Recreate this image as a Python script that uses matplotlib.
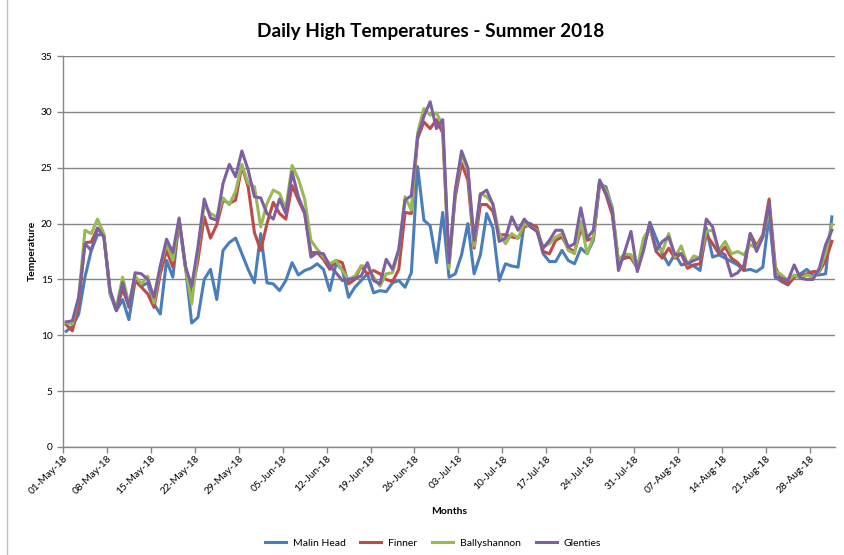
import matplotlib
matplotlib.use("Agg")
import matplotlib.pyplot as plt
import matplotlib.dates as mdates
import pandas as pd
from matplotlib.lines import Line2D

plt.rcParams['font.family'] = ['Lato', 'DejaVu Sans']

start_date = "2018-05-01"
n_days = 123

malin_head = [10.35,10.8,11.9,15.2,17.6,19.0,19.0,13.7,12.2,13.2, 11.4,14.9,14.4,14.7,12.8,11.9,16.7,15.2,20.3,16.2,
              11.1,11.6,15.0,15.9,13.2,17.6,18.3,18.7,17.3,15.9, 14.7,
              19.1,14.7,14.6,14.0,14.9,16.5,15.4,15.8,16.0,16.4, 15.9,14.0,16.4,15.9,13.4,14.3,14.9,15.5,13.8,14.0,
              13.9,14.7,14.9,14.3,15.6,25.1,20.3,19.8,16.5,21.0, 15.2,
              15.5,17.2,20.0,15.5,17.2,20.9,19.6,14.9,16.4,16.2, 16.1,20.1,20.0,19.4,17.3,16.6,16.6,17.6,16.7,16.4,
              17.8,17.3,18.5,23.5,23.3,21.4,16.3,17.2,16.9,16.1,
              17.9,20.1,18.7,17.3,16.3,17.3,16.3,16.4,16.2,15.8, 19.6,17.0,17.2,16.9,16.6,16.3,15.8,15.9,15.7,16.1,
              20.7,15.2,14.8,14.5,15.2,15.5,15.9,15.4,15.4,15.5, 20.6]

finner = [10.95,10.4,12.8,18.3,18.35,19.6,19.0,14.0,12.3,14.1, 12.6,14.9,14.3,13.7,12.5,15.5,17.6,16.1,20.2,16.1,
          13.7,16.7,20.6,18.7,19.9,22.1,21.8,22.1,25.15,23.3, 19.2,
          17.6,20.0,21.9,20.9,20.4,23.4,22.1,20.9,17.4,17.4, 16.8,15.9,16.7,16.5,14.6,15.0,16.2,15.5,15.8,15.5,
          15.0,14.8,15.9,21.0,20.9,27.6,29.1,28.5,29.3,28.1, 16.3,
          22.4,25.4,23.9,17.8,21.7,21.7,21.1,19.0,19.0,18.8, 18.7,19.7,19.9,19.7,17.5,17.3,18.5,18.8,17.8,17.5,
          19.4,18.5,18.7,23.8,22.6,20.8,16.6,16.9,17.0,16.0,
          18.2,19.7,17.5,16.9,17.8,16.9,17.3,16.0,16.3,16.4, 19.0,18.2,17.3,17.9,16.9,16.5,15.8,19.1,18.0,19.0,
          22.2,16.1,14.9,14.6,15.2,15.3,15.5,15.7,15.7,16.7, 18.4]

ballyshannon = [11.1,11.0,13.4,19.4,19.1,20.4,19.1,13.7,12.5,15.2, 12.8,15.3,14.6,15.3,12.9,16.1,18.2,16.7,20.3,16.1,
                12.8,17.6,21.7,20.9,20.6,22.3,21.7,22.9,25.3,23.6, 23.3,
                19.7,21.8,23.0,22.7,21.3,25.2,24.0,22.2,18.5,17.7, 17.0,16.4,16.7,15.8,15.0,15.3,16.2,16.2,15.2,14.4,
                15.5,15.6,17.6,22.4,21.2,28.1,30.3,29.7,29.9,28.8, 16.0,
                22.8,26.2,24.8,18.0,22.7,22.4,21.8,19.1,18.2,19.1, 18.7,20.0,19.7,19.4,17.9,18.2,18.8,19.1,17.6,17.3,
                20.2,17.3,18.8,23.8,23.0,21.5,16.7,17.3,17.2,16.1,
                18.7,19.6,17.9,17.5,19.1,17.0,18.0,16.3,17.1,16.9, 19.3,19.4,17.6,18.4,17.3,17.5,17.2,18.1,17.8,18.8,
                21.3,15.8,15.4,14.9,15.4,15.1,15.4,15.2,15.8,17.3, 19.9]

glenties = [11.2,11.3,13.4,18.2,17.6,19.6,18.8,14.0,12.2,14.7, 12.5,15.6,15.5,15.0,13.4,16.2,18.6,17.4,20.5,16.2,
            14.4,17.9,22.2,20.5,20.3,23.6,25.3,24.2,26.5,24.8, 22.4,
            22.3,20.9,20.4,22.2,20.9,24.6,22.4,21.0,17.0,17.4, 17.3,16.2,15.6,14.9,15.0,15.1,15.3,16.5,14.9,14.6,
            16.8,15.9,17.7,22.1,22.5,27.8,29.6,30.9,28.5,29.3, 16.5,
            23.0,26.5,25.0,18.5,22.6,23.0,21.7,18.4,18.7,20.6, 19.4,20.4,19.7,19.3,17.8,18.5,19.4,19.4,17.9,18.2,
            21.4,18.7,19.4,23.9,22.7,21.2,15.8,17.5,19.3,15.7,
            17.6,20.1,17.6,18.4,18.8,17.2,17.3,16.4,16.7,16.9, 20.4,19.7,17.5,17.2,15.3,15.6,16.3,19.1,17.5,18.8,
            21.8,15.2,15.1,14.9,16.3,15.1,15.0,15.0,16.0,18.1, 19.4]

series_names = ["Malin Head", "Finner", "Ballyshannon", "Glenties"]
series_values = [malin_head, finner, ballyshannon, glenties]
series_colors = ["#4A7EBB", "#BE4B48", "#98B954", "#7D60A0"]

y_ticks = [0, 5, 10, 15, 20, 25, 30, 35]

dates = pd.date_range(start_date, periods=n_days, freq="D")
x = dates + pd.Timedelta(hours=12)

fig = plt.figure(figsize=(8.45, 5.55), dpi=100)
ax = fig.add_axes([63/845, 1-447/555, (835-63)/845, (447-56)/555])

for name, vals, col in zip(series_names, series_values, series_colors):
    ax.plot(x, vals, color=col, lw=2.2, label=name, solid_joinstyle='round')

ax.set_xlim(dates[0], dates[-1] + pd.Timedelta(days=1))
ax.set_ylim(0, 35)
ax.set_yticks(y_ticks)
ax.set_xticks(dates[::7][:18])
ax.xaxis.set_major_formatter(mdates.DateFormatter('%d-%b-%y'))

grid_col = "#868686"
ax.grid(axis='y', color=grid_col, lw=1.0)
ax.set_axisbelow(True)
for s in ['top', 'right']:
    ax.spines[s].set_visible(False)
for s in ['left', 'bottom']:
    ax.spines[s].set_color(grid_col)
    ax.spines[s].set_linewidth(1.0)
ax.tick_params(axis='both', colors=grid_col, length=4, width=1.0, labelcolor='black', labelsize=7.3)
ax.tick_params(axis='x', pad=1)
for lab in ax.get_xticklabels():
    lab.set_rotation(45)
    lab.set_ha('right')
    lab.set_rotation_mode('anchor')

fig.text(449/845, 1-512/555, "Months", ha='center', va='center', fontsize=7.5, fontweight='bold')
fig.text(32/845, 1-251/555, "Temperature", ha='center', va='center', rotation=90, fontsize=7.5, fontweight='bold')
fig.text(431/845, 1-31/555, "Daily High Temperatures - Summer 2018", ha='center', va='center',
         fontsize=13.7, fontweight='bold')

handles = [Line2D([0], [0], color=c, lw=2.2) for c in series_colors]
fig.legend(handles, series_names, loc='center', bbox_to_anchor=(433/845, 1-543/555), ncol=4,
           frameon=False, fontsize=7.5, handlelength=2.0, handletextpad=0.7, columnspacing=1.4)

fig.add_artist(Line2D([7/845, 7/845], [0, 1], transform=fig.transFigure, color="#BFBFBF", lw=1.0))

fig.savefig("out.png", dpi=100)
